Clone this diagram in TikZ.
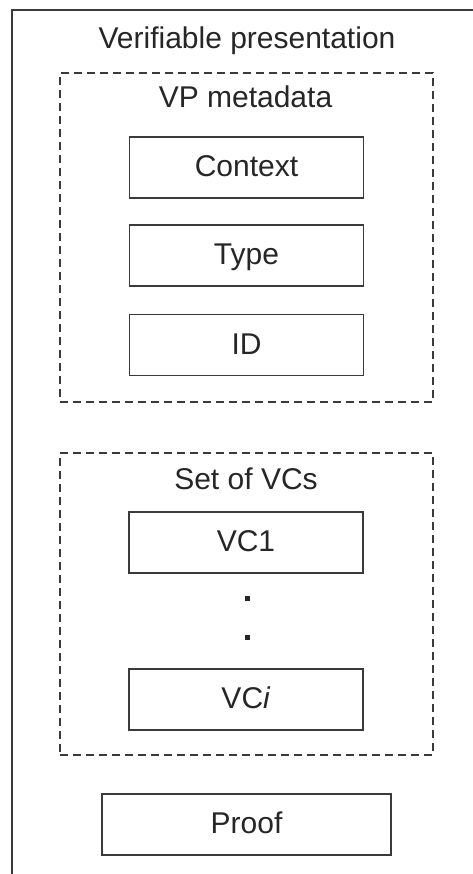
\documentclass[tikz,border=0pt]{standalone}
\usepackage{fontspec}
\setmainfont{Liberation Sans}
\definecolor{inkline}{HTML}{3A3A3A}
\definecolor{inktext}{HTML}{262626}
\begin{document}
\begin{tikzpicture}[x=1pt,y=-1pt,
  every node/.style={font=\fontsize{30}{34}\selectfont, text=inktext},
  field/.style={draw=inkline, line width=1.3pt, rectangle, minimum width=234pt,
    minimum height=61pt, inner sep=0pt, text height=22pt, text depth=4pt},
  group/.style={draw=inkline, line width=1.3pt, dash pattern=on 8pt off 5pt,
    rectangle, inner sep=0pt},
  heading/.style={anchor=base, inner sep=0pt},
  dotmark/.style={fill=inktext, draw=none, rectangle, minimum size=5pt, inner sep=0pt}]
\useasboundingbox (0,0) rectangle (472,874);
\fill[white] (0,0) rectangle (472,874);

% outer container (open to the right and bottom)
\coordinate (outerTL) at (12,10);
\coordinate (outerTR) at (480,10);
\coordinate (outerBL) at (12,880);
\draw[inkline, line width=1.4pt] (outerTR) -- (outerTL) -- (outerBL);
\node[heading] (title) at (247,49) {Verifiable presentation};

% VP metadata group
\node[group, minimum width=373pt, minimum height=329pt] (meta) at (246.5,237.5) {};
\node[heading] (metatitle) at (245.5,108) {VP metadata};
\node[field] (context) at (246.5,167.5) {Context};
\node[field] (type) at (246.5,255.5) {Type};
\node[field] (id) at (246.5,345) {ID};

% set of credentials
\node[group, minimum width=373pt, minimum height=302pt] (vcs) at (246.5,604) {};
\node[heading] (vcstitle) at (246,489) {Set of VCs};
\node[field] (vc1) at (246,542.5) {VC1};
\node[dotmark] (dotA) at (247,598) {};
\node[dotmark] (dotB) at (247,637) {};
\node[field] (vci) at (246,699.5) {VC\textit{i}};

% proof
\node[field, minimum width=289pt] (proof) at (246.5,824.5) {Proof};
\end{tikzpicture}
\end{document}
